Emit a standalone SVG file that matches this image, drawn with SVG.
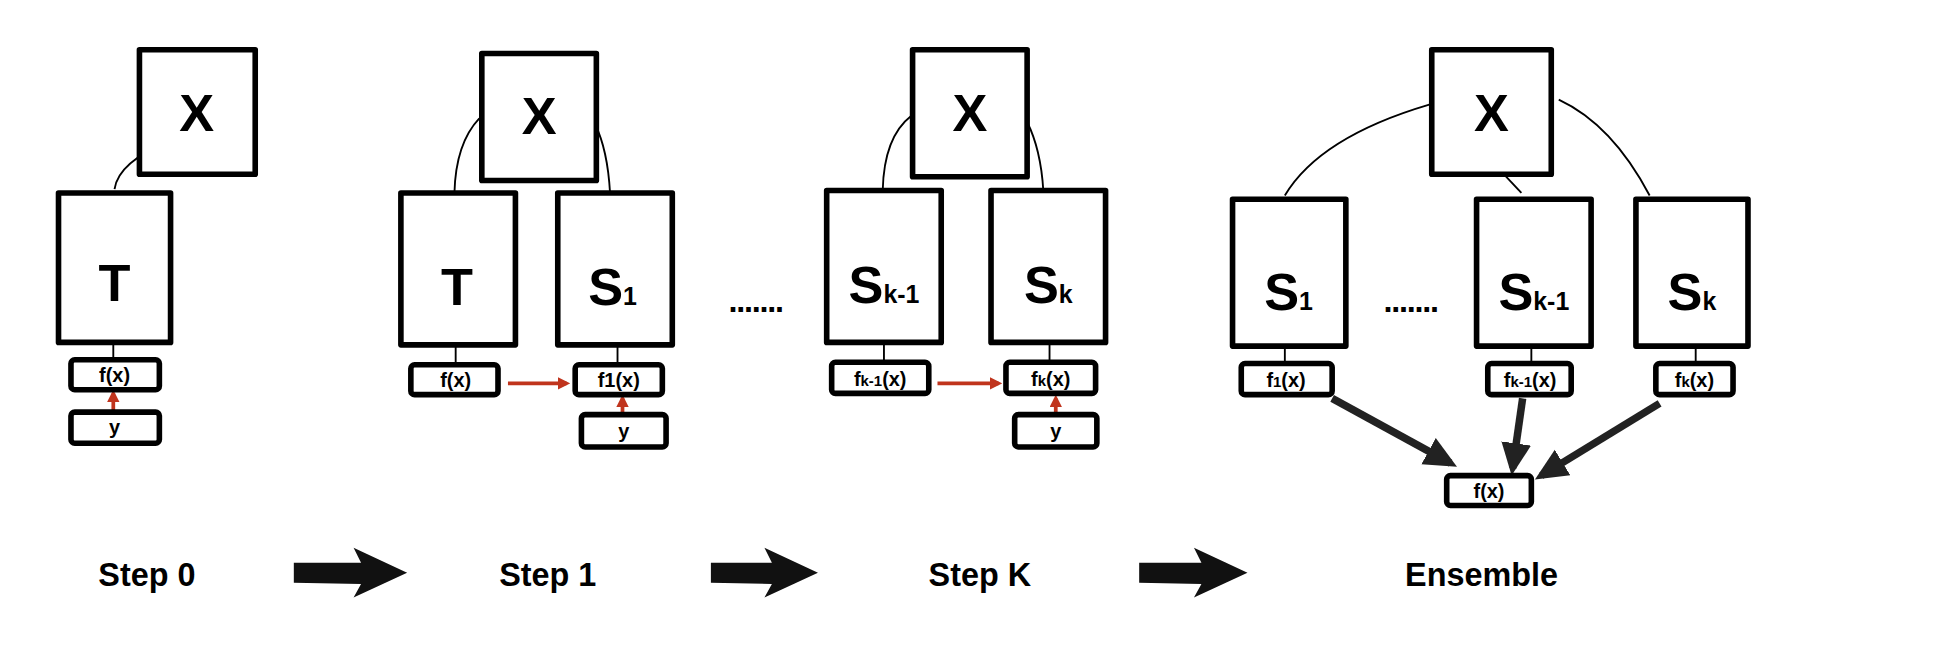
<svg xmlns="http://www.w3.org/2000/svg" width="1952" height="656" viewBox="0 0 1952 656">
<style>
.b{fill:#fff;stroke:#000;stroke-width:4.5;stroke-linejoin:round}
.t{font-family:"Liberation Sans",Arial,sans-serif;font-weight:bold;fill:#000;text-anchor:middle}
.big{font-size:42px}
.sm{font-size:16px}
.lbl{font-size:26px}
.ln{fill:none;stroke:#000;stroke-width:1.5}
.red{stroke:#c0341d;stroke-width:3;fill:none}
.thick{stroke:#222;stroke-width:6;fill:none}
.wedge{fill:#111}
</style>
<defs>
<marker id="ra" markerWidth="10" markerHeight="10" refX="7" refY="5" orient="auto" markerUnits="userSpaceOnUse"><path d="M0,0L10,5L0,10z" fill="#c0341d"/></marker>
<marker id="ba" markerWidth="28" markerHeight="28" refX="20" refY="14" orient="auto" markerUnits="userSpaceOnUse"><path d="M0,2L26,14L0,26z" fill="#222"/></marker>
</defs>
<rect width="1952" height="656" fill="#fff"/>
<g transform="scale(1.245)">
<g id="connectors">
<path class="ln" d="M137,113 Q95,130 92,152"/>
<line class="ln" x1="91" y1="275" x2="91" y2="288"/>
<line class="red" x1="91" y1="330" x2="91" y2="316" marker-end="url(#ra)"/>
<path class="ln" d="M385,95 Q366,115 365,155"/>
<path class="ln" d="M478,100 Q488,120 490,155"/>
<line class="ln" x1="366" y1="278" x2="366" y2="300"/>
<line class="ln" x1="496" y1="278" x2="496" y2="300"/>
<line class="red" x1="408" y1="308" x2="455" y2="308" marker-end="url(#ra)"/>
<line class="red" x1="500" y1="332" x2="500" y2="320" marker-end="url(#ra)"/>
<path class="ln" d="M732,93 Q710,110 709,153"/>
<path class="ln" d="M825,98 Q836,120 838,153"/>
<line class="ln" x1="710" y1="275" x2="710" y2="290"/>
<line class="ln" x1="843" y1="275" x2="843" y2="290"/>
<line class="red" x1="753" y1="308" x2="802" y2="308" marker-end="url(#ra)"/>
<line class="red" x1="848" y1="332" x2="848" y2="320" marker-end="url(#ra)"/>
<path class="ln" d="M1148,84 Q1060,110 1032,157"/>
<line class="ln" x1="1208" y1="140" x2="1222" y2="155"/>
<path class="ln" d="M1252,80 Q1295,100 1325,157"/>
<line class="ln" x1="1032" y1="278" x2="1032" y2="290"/>
<line class="ln" x1="1230" y1="278" x2="1230" y2="290"/>
<line class="ln" x1="1362" y1="278" x2="1362" y2="290"/>
<line class="thick" x1="1070" y1="320" x2="1165" y2="372" marker-end="url(#ba)"/>
<line class="thick" x1="1223" y1="320" x2="1215" y2="376" marker-end="url(#ba)"/>
<line class="thick" x1="1333" y1="324" x2="1238" y2="382" marker-end="url(#ba)"/>
<path class="wedge" d="M236,452 L290,452 L284,440 L327,460 L284,480 L290,469 L236,468 z"/>
<path class="wedge" d="M571,452 L620,452 L614,440 L657,460 L614,480 L620,469 L571,468 z"/>
<path class="wedge" d="M915,452 L965,452 L959,440 L1002,460 L959,480 L965,469 L915,468 z"/>
</g>
<g id="step0">
<g id="s0x"><rect class="b" x="112" y="40" width="93" height="100"/><text class="t big" x="158" y="105">X</text></g>
<g id="s0t"><rect class="b" x="47" y="155" width="90" height="120"/><text class="t big" x="92" y="242">T</text></g>
<g id="s0f"><rect class="b" x="57" y="289" width="71" height="24" rx="3"/><text class="t sm" x="92" y="307">f(x)</text></g>
<g id="s0y"><rect class="b" x="57" y="331" width="71" height="25" rx="3"/><text class="t sm" x="92" y="349">y</text></g>
<text class="t lbl" x="118" y="471">Step 0</text>
</g>
<g id="step1">
<g id="s1x"><rect class="b" x="387" y="43" width="92" height="102"/><text class="t big" x="433" y="108">X</text></g>
<g id="s1t"><rect class="b" x="322" y="155" width="92" height="122"/><text class="t big" x="367" y="245">T</text></g>
<g id="s1s"><rect class="b" x="448" y="155" width="92" height="122"/><text class="t big" x="492" y="245">S<tspan font-size="20">1</tspan></text></g>
<g id="s1f"><rect class="b" x="330" y="293" width="70" height="24" rx="3"/><text class="t sm" x="366" y="311">f(x)</text></g>
<g id="s1f1"><rect class="b" x="462" y="293" width="70" height="24" rx="3"/><text class="t sm" x="497" y="311">f1(x)</text></g>
<g id="s1y"><rect class="b" x="467" y="333" width="68" height="26" rx="3"/><text class="t sm" x="501" y="352">y</text></g>
<text class="t" x="607" y="251" font-size="26" letter-spacing="-1">.......</text>
<text class="t lbl" x="440" y="471">Step 1</text>
</g>
<g id="stepK">
<g id="skx"><rect class="b" x="733" y="40" width="92" height="102"/><text class="t big" x="779" y="105">X</text></g>
<g id="sk1"><rect class="b" x="664" y="153" width="92" height="122"/><text class="t big" x="710" y="243">S<tspan font-size="20">k-1</tspan></text></g>
<g id="sk"><rect class="b" x="796" y="153" width="92" height="122"/><text class="t big" x="842" y="243">S<tspan font-size="20">k</tspan></text></g>
<g id="skf1"><rect class="b" x="668" y="291" width="78" height="25" rx="3"/><text class="t sm" x="707" y="310">f<tspan font-size="12">k-1</tspan>(x)</text></g>
<g id="skf"><rect class="b" x="808" y="291" width="72" height="25" rx="3"/><text class="t sm" x="844" y="310">f<tspan font-size="12">k</tspan>(x)</text></g>
<g id="sky"><rect class="b" x="815" y="333" width="66" height="26" rx="3"/><text class="t sm" x="848" y="352">y</text></g>
<text class="t lbl" x="787" y="471">Step K</text>
</g>
<g id="ensemble">
<g id="ex"><rect class="b" x="1150" y="40" width="96" height="100"/><text class="t big" x="1198" y="105">X</text></g>
<g id="es1"><rect class="b" x="990" y="160" width="91" height="118"/><text class="t big" x="1035" y="249">S<tspan font-size="20">1</tspan></text></g>
<text class="t" x="1133" y="251" font-size="26" letter-spacing="-1">.......</text>
<g id="esk1"><rect class="b" x="1186" y="160" width="92" height="118"/><text class="t big" x="1232" y="249">S<tspan font-size="20">k-1</tspan></text></g>
<g id="esk"><rect class="b" x="1314" y="160" width="90" height="118"/><text class="t big" x="1359" y="249">S<tspan font-size="20">k</tspan></text></g>
<g id="ef1"><rect class="b" x="997" y="292" width="73" height="25" rx="3"/><text class="t sm" x="1033" y="311">f<tspan font-size="12">1</tspan>(x)</text></g>
<g id="efk1"><rect class="b" x="1195" y="292" width="67" height="25" rx="3"/><text class="t sm" x="1229" y="311">f<tspan font-size="12">k-1</tspan>(x)</text></g>
<g id="efk"><rect class="b" x="1330" y="292" width="62" height="25" rx="3"/><text class="t sm" x="1361" y="311">f<tspan font-size="12">k</tspan>(x)</text></g>
<g id="ef"><rect class="b" x="1162" y="382" width="68" height="24" rx="3"/><text class="t sm" x="1196" y="400">f(x)</text></g>
<text class="t lbl" x="1190" y="471">Ensemble</text>
</g>
</g>
</svg>
